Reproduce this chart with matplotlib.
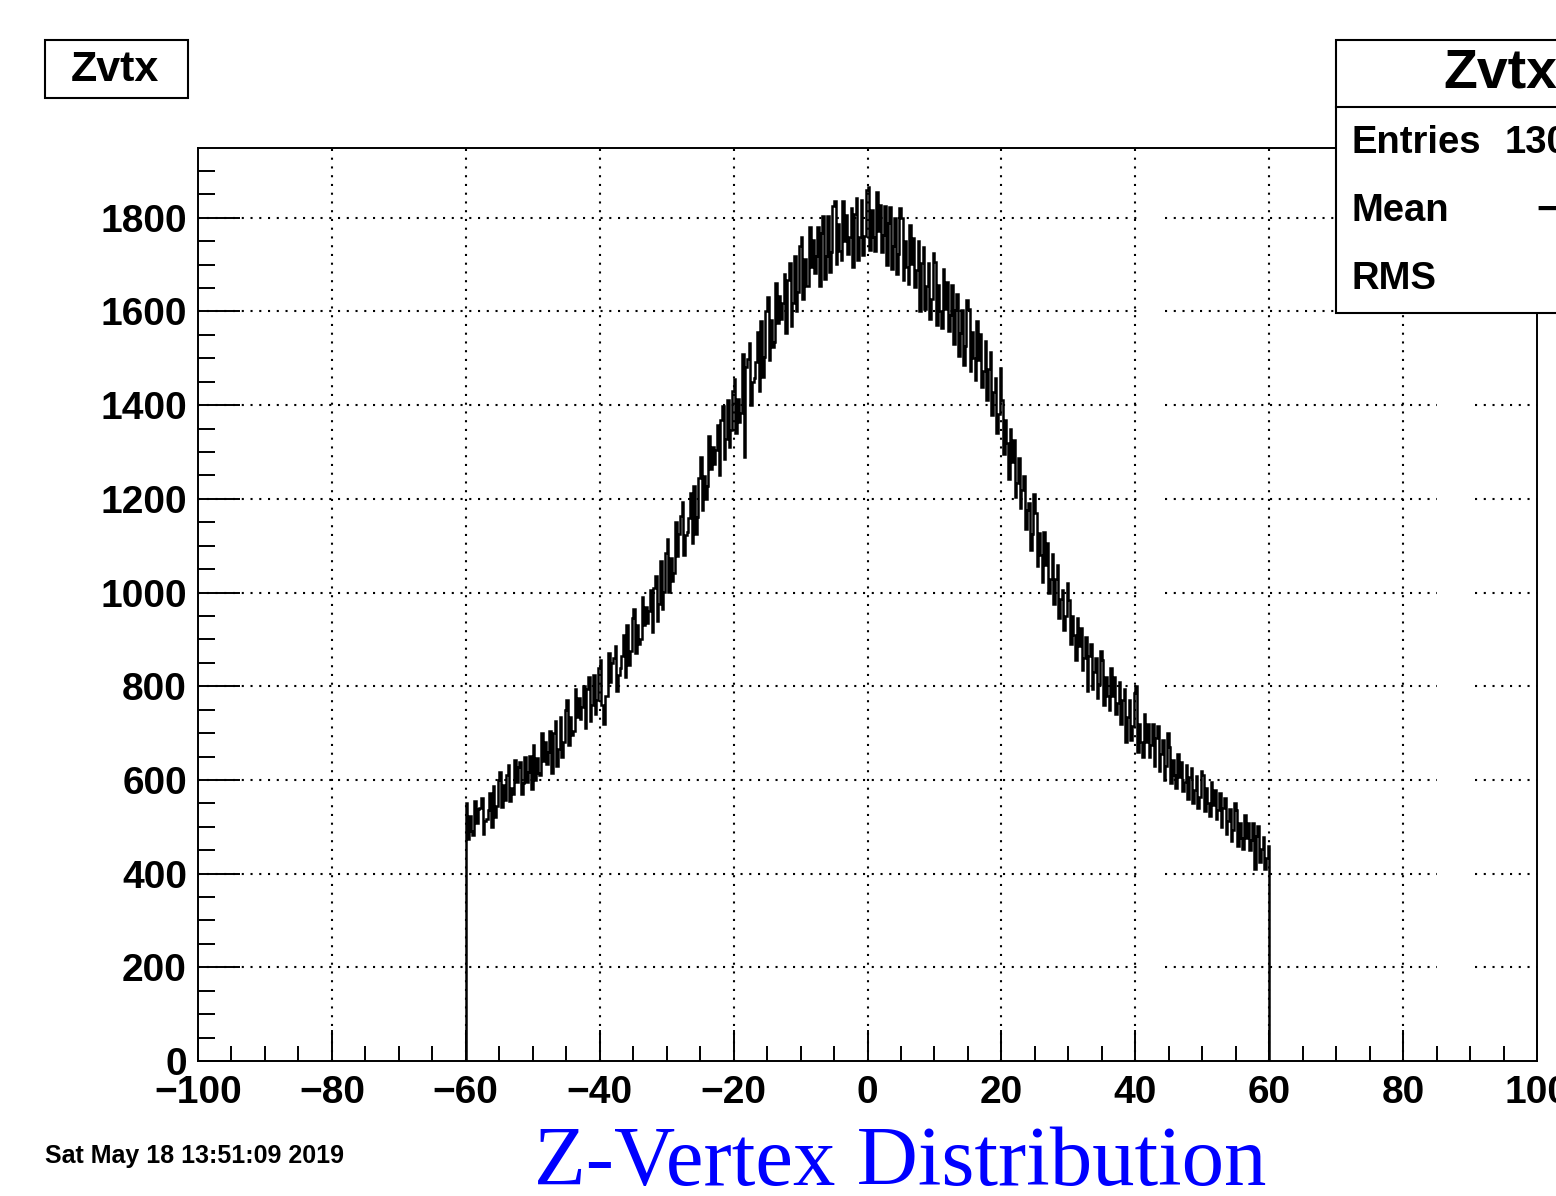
import numpy as np
import matplotlib
matplotlib.use("Agg")
import matplotlib.pyplot as plt
from matplotlib.patches import Rectangle

# histogram contents, 0.25 wide bins from -60 to 60
counts = [
    550, 474, 522, 490, 483, 555, 507, 539, 541, 561, 485, 513,
    516, 536, 572, 500, 588, 520, 544, 600, 618, 542, 590, 558,
    611, 631, 555, 583, 571, 643, 595, 627, 638, 570, 594, 650,
    596, 616, 652, 580, 675, 599, 647, 615, 610, 700, 640, 680,
    635, 660, 705, 615, 700, 725, 630, 665, 735, 650, 680, 750,
    770, 675, 735, 695, 705, 795, 735, 775, 730, 755, 800, 710,
    795, 820, 725, 760, 825, 740, 770, 840, 855, 760, 720, 780,
    780, 870, 810, 850, 860, 885, 790, 825, 840, 865, 910, 820,
    930, 845, 875, 945, 965, 870, 930, 890, 900, 990, 930, 970,
    935, 960, 1005, 915, 1010, 1035, 940, 975, 1067, 965, 1001, 1085,
    1115, 1001, 1073, 1025, 1042, 1150, 1078, 1126, 1164, 1194, 1080, 1122,
    1129, 1159, 1213, 1105, 1227, 1125, 1161, 1245, 1290, 1176, 1248, 1200,
    1227, 1335, 1263, 1311, 1274, 1304, 1358, 1250, 1369, 1399, 1285, 1327,
    1412, 1310, 1346, 1430, 1455, 1341, 1413, 1365, 1384, 1510, 1290, 1482,
    1498, 1533, 1400, 1449, 1458, 1493, 1556, 1430, 1579, 1460, 1502, 1600,
    1630, 1497, 1581, 1525, 1534, 1660, 1576, 1632, 1583, 1618, 1681, 1555,
    1668, 1703, 1570, 1619, 1719, 1600, 1642, 1740, 1760, 1627, 1711, 1655,
    1654, 1780, 1696, 1752, 1683, 1718, 1781, 1655, 1768, 1803, 1670, 1719,
    1804, 1685, 1727, 1825, 1835, 1702, 1786, 1730, 1709, 1835, 1751, 1807,
    1723, 1758, 1821, 1695, 1808, 1843, 1710, 1759, 1839, 1720, 1762, 1860,
    1865, 1732, 1816, 1760, 1729, 1855, 1771, 1827, 1728, 1763, 1826, 1700,
    1788, 1823, 1690, 1739, 1799, 1680, 1722, 1820, 1800, 1667, 1751, 1695,
    1659, 1785, 1701, 1757, 1653, 1688, 1751, 1600, 1703, 1738, 1605, 1654,
    1704, 1585, 1627, 1725, 1705, 1572, 1656, 1600, 1564, 1690, 1606, 1662,
    1558, 1593, 1656, 1530, 1603, 1638, 1505, 1554, 1604, 1485, 1527, 1625,
    1605, 1472, 1556, 1500, 1454, 1580, 1496, 1552, 1438, 1473, 1536, 1410,
    1478, 1513, 1380, 1429, 1459, 1340, 1382, 1480, 1410, 1296, 1368, 1320,
    1242, 1350, 1278, 1326, 1204, 1234, 1288, 1180, 1219, 1249, 1135, 1177,
    1192, 1090, 1126, 1210, 1170, 1056, 1128, 1080, 1022, 1130, 1058, 1106,
    999, 1029, 1083, 975, 1029, 1059, 945, 987, 1005, 920, 950, 1020,
    985, 890, 950, 910, 855, 945, 885, 925, 835, 860, 905, 790,
    865, 890, 795, 830, 860, 775, 805, 875, 855, 760, 820, 780,
    750, 840, 780, 820, 740, 765, 810, 720, 770, 795, 680, 735,
    770, 685, 715, 785, 800, 660, 720, 680, 650, 740, 680, 720,
    650, 675, 720, 630, 690, 715, 620, 655, 685, 600, 630, 700,
    670, 594, 642, 610, 583, 655, 607, 639, 576, 596, 632, 560,
    606, 626, 550, 578, 608, 540, 564, 620, 610, 534, 582, 550,
    523, 595, 547, 579, 516, 536, 572, 500, 541, 561, 485, 513,
    538, 470, 494, 550, 535, 459, 507, 475, 453, 525, 477, 509,
    451, 471, 507, 410, 481, 501, 425, 453, 478, 410, 434, 460,
]
edges = np.linspace(-60, 60, len(counts) + 1)

x_ticks = [-100, -80, -60, -40, -20, 0, 20, 40, 60, 80, 100]
y_ticks = [0, 200, 400, 600, 800, 1000, 1200, 1400, 1600, 1800]
x_labels = ["\u2212100", "\u221280", "\u221260", "\u221240", "\u221220",
            "0", "20", "40", "60", "80", "100"]

title = "Zvtx"
stats_names = ["Entries", "Mean", "RMS"]
stats_values = ["130", "\u2212", ""]
date_text = "Sat May 18 13:51:09 2019"
caption = "Z-Vertex Distribution"

W, H = 1556, 1196
fig = plt.figure(figsize=(W / 100, H / 100), dpi=100)
fig.patch.set_facecolor("white")

def fx(px):
    return px / W

def fy(py):
    return 1 - py / H

ax = fig.add_axes([fx(198), fy(1061), fx(1537) - fx(198), fy(148) - fy(1061)])
ax.set_xlim(-100, 100)
ax.set_ylim(0, 1949)

dots = (0, (1, 3.2))
# vertical grid
for xv in x_ticks[1:-1]:
    ax.axvline(xv, color="black", lw=1.5, ls=dots, zorder=1)
# horizontal grid (with the gaps seen in the picture)
for yv in y_ticks[1:]:
    for a, b in [(-100, 40.6), (44.5, 85.1), (90.7, 100)]:
        ax.plot([a, b], [yv, yv], color="black", lw=1.5, ls=dots, zorder=1)

ax.stairs(counts, edges, baseline=0, color="black", lw=1.8, zorder=3)

ax.set_xticks(x_ticks)
ax.set_xticklabels(x_labels)
ax.set_xticks(np.arange(-95, 100, 5), minor=True)
ax.set_yticks(y_ticks)
ax.set_yticks(np.arange(50, 1950, 50), minor=True)

for s in ax.spines.values():
    s.set_linewidth(1.4)

ax.tick_params(axis="both", which="both", direction="in", top=False, right=False,
               width=1.4, labelsize=28)
ax.tick_params(axis="x", which="major", length=22, pad=10)
ax.tick_params(axis="x", which="minor", length=11)
ax.tick_params(axis="y", which="major", length=30, pad=8)
ax.tick_params(axis="y", which="minor", length=12)
for lab in ax.get_xticklabels() + ax.get_yticklabels():
    lab.set_family("Liberation Sans")
    lab.set_fontweight("bold")

# title box
fig.patches.append(Rectangle((fx(45), fy(98)), fx(188) - fx(45), fy(40) - fy(98),
                             transform=fig.transFigure, fc="white", ec="black",
                             lw=1.5, zorder=5))
fig.text(fx(115), fy(70), title, ha="center", va="center", fontsize=31,
         family="Liberation Sans", fontweight="bold", zorder=6)

# stats box, running off the right edge
fig.patches.append(Rectangle((fx(1336), fy(313)), fx(300), fy(40) - fy(313),
                             transform=fig.transFigure, fc="white", ec="black",
                             lw=1.5, zorder=5))
fig.lines.append(plt.Line2D([fx(1336), 1.05], [fy(107), fy(107)],
                            transform=fig.transFigure, color="black", lw=1.5,
                            zorder=6))
fig.text(fx(1443), fy(74), title, ha="left", va="center", fontsize=40,
         family="Liberation Sans", fontweight="bold", zorder=7)
for i, (name, val) in enumerate(zip(stats_names, stats_values)):
    yy = fy(143 + i * 68)
    fig.text(fx(1352), yy, name, ha="left", va="center", fontsize=27.5,
             family="Liberation Sans", fontweight="bold", zorder=7)
    fig.text(fx(1505) if i == 0 else fx(1536), yy, val, ha="left", va="center",
             fontsize=27.5, family="Liberation Sans", fontweight="bold", zorder=7)

fig.text(fx(45), fy(1156), date_text, ha="left", va="center", fontsize=18,
         family="Liberation Sans", fontweight="bold")
fig.text(fx(900), fy(1164), caption, ha="center", va="center", fontsize=61,
         family="Liberation Serif", color="#0000ff")

fig.savefig("out.png", dpi=100)
